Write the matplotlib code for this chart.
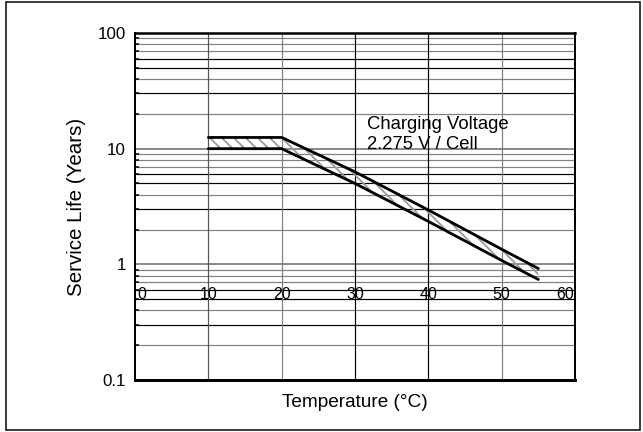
import matplotlib

matplotlib.use("Agg")
import matplotlib.pyplot as plt
import numpy as np
from matplotlib.patches import Rectangle

plt.rcParams["font.family"] = ["Liberation Sans", "DejaVu Sans"]
plt.rcParams["hatch.linewidth"] = 1.8
plt.rcParams["hatch.color"] = "#9a9a9a"

# ── data ──────────────────────────────────────────────────────────────────
temp_upper = [10, 20, 30, 40, 50, 55]
life_upper = [12.5, 12.5, 6.3, 2.95, 1.35, 0.92]
temp_lower = [10, 20, 30, 40, 50, 55]
life_lower = [10.0, 10.0, 5.0, 2.35, 1.08, 0.74]

x_ticks = [0, 10, 20, 30, 40, 50, 60]
y_ticks = [0.1, 1, 10, 100]
y_tick_labels = ["0.1", "1", "10", "100"]
note_lines = ["Charging Voltage", "2.275 V / Cell"]

# grid colour per minor step inside a decade (2..9)
minor_colors = {2: "#808080", 3: "#000000", 4: "#808080", 5: "#000000",
                6: "#000000", 7: "#808080", 8: "#808080", 9: "#808080"}
vgrid_colors = {10: "#555555", 20: "#808080", 30: "#000000", 40: "#000000", 50: "#808080"}

# ── figure ────────────────────────────────────────────────────────────────
DPI = 72
fig = plt.figure(figsize=(643 / DPI, 432 / DPI), dpi=DPI)
ax = fig.add_axes([135 / 643, 1 - 380 / 432, 440 / 643, 347 / 432])
ax.set_yscale("log")
ax.set_xlim(0, 60)
ax.set_ylim(0.1, 100)

# horizontal grid
for dec in [0.1, 1, 10]:
    for m in range(2, 10):
        ax.axhline(dec * m, color=minor_colors[m], lw=1.2, zorder=1)
    if dec > 0.1:
        ax.axhline(dec, color="#808080", lw=1.8, zorder=1)
# vertical grid
for xv, c in vgrid_colors.items():
    ax.axvline(xv, color=c, lw=1.2, zorder=1)

# hatched band
xs = np.array(temp_upper, dtype=float)
ax.fill_between(xs, life_lower, life_upper, facecolor="none", edgecolor="#9a9a9a",
                hatch="\\\\", lw=0, zorder=2)
ax.plot(temp_upper, life_upper, color="black", lw=2.8, solid_capstyle="round", zorder=3)
ax.plot(temp_lower, life_lower, color="black", lw=2.8, solid_capstyle="round", zorder=3)

# x tick labels sit inside the plot
for xv in x_ticks:
    ha = "left" if xv == x_ticks[0] else ("right" if xv == x_ticks[-1] else "center")
    off = 0.3 if xv == x_ticks[0] else (-0.2 if xv == x_ticks[-1] else 0)
    ax.text(xv + off, 0.55, str(xv), ha=ha, va="center", fontsize=16, zorder=4)
ax.set_xticks([])

ax.set_yticks(y_ticks)
ax.set_yticklabels(y_tick_labels)
ax.yaxis.set_minor_locator(matplotlib.ticker.LogLocator(subs=np.arange(2, 10)))
ax.yaxis.set_minor_formatter(matplotlib.ticker.NullFormatter())
ax.tick_params(axis="y", which="major", direction="in", length=0, labelsize=17, pad=9)
ax.tick_params(axis="y", which="minor", direction="in", length=4, width=1.5, color="black")

for side, lw in [("left", 2.0), ("bottom", 3.0), ("top", 2.5), ("right", 2.0)]:
    ax.spines[side].set_linewidth(lw)
    ax.spines[side].set_color("black")
    ax.spines[side].set_zorder(5)

ax.set_xlabel("Temperature (°C)", fontsize=19, labelpad=14)
ax.set_ylabel("Service Life (Years)", fontsize=20.5, labelpad=12)

ax.text(31.6, 16.2, note_lines[0], fontsize=18.5, va="center", ha="left", zorder=4)
ax.text(31.6, 10.8, note_lines[1], fontsize=18.5, va="center", ha="left", zorder=4)

# outer frame
fig.patches.append(Rectangle((6 / 643, 2 / 432), 634 / 643, 428 / 432, transform=fig.transFigure,
                             fill=False, edgecolor="black", lw=1.5))

fig.savefig("out.png", dpi=DPI)
